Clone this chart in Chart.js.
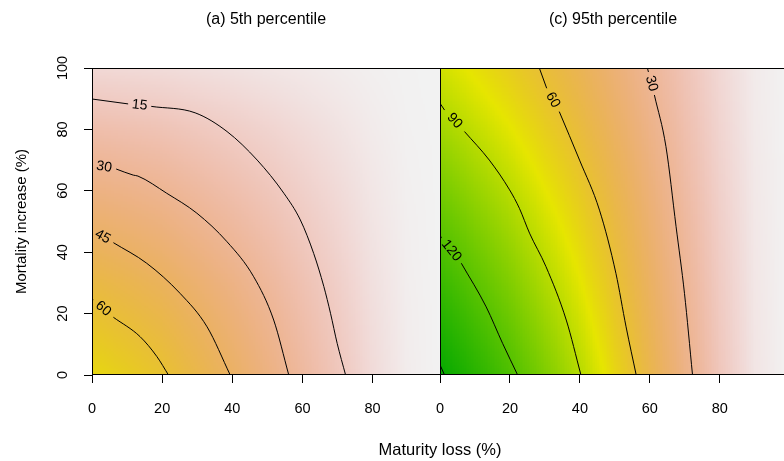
<!DOCTYPE html>
<html>
<head>
<meta charset="utf-8">
<script src="https://cdn.jsdelivr.net/npm/chart.js@4"></script>
<style>
  body { margin: 0; background: #fff; }
  #wrap { position: relative; width: 784px; height: 461px; overflow: hidden;
          font-family: "Liberation Sans", Arial, sans-serif; color: #000; }
  canvas { position: absolute; top: 0; }
  .ttl { position: absolute; font-size: 16px; line-height: 18px; white-space: nowrap; transform: translateX(-50%); }
</style>
</head>
<body>
<div id="wrap">
  <canvas id="chA" width="442" height="461" style="left:0"></canvas>
  <canvas id="chC" width="368" height="461" style="left:420px"></canvas>
  <div class="ttl" style="left:266px;top:10px">(a) 5th percentile</div>
  <div class="ttl" style="left:613px;top:10px">(c) 95th percentile</div>
  <div class="ttl" style="left:440px;top:440px;font-size:16.5px">Maturity loss (%)</div>
</div>
<script>
// fields, on a 10% grid (rows = mortality 0..100, cols = maturity 0..100)
const gridX = [0, 10, 20, 30, 40, 50, 60, 70, 80, 90, 100];
const gridY = [0, 10, 20, 30, 40, 50, 60, 70, 80, 90, 100];

const fieldA = [
  [72,   67,   61.5, 53,   44.5, 35.5, 26,   17,   8,   2,   0],
  [66.5, 61.9, 56.8, 49,   41.1, 32.8, 24,   15.7, 7.4, 1.8, 0],
  [61,   56.7, 52.1, 44.9, 37.7, 30.1, 22,   14.4, 6.8, 1.7, 0],
  [55,   51.2, 47,   40.5, 34,   27.1, 19.9, 13,   6.1, 1.5, 0],
  [48,   44.7, 41,   35.3, 29.7, 23.7, 17.3, 11.3, 5.3, 1.3, 0],
  [41.5, 38.6, 35.4, 30.5, 25.6, 20.4, 15,   9.8,  4.6, 1.2, 0],
  [35,   32.6, 29.9, 25.8, 21.6, 17.3, 12.6, 8.3,  3.9, 1,   0],
  [28.5, 26.5, 24.4, 21,   17.6, 14.1, 10.3, 6.7,  3.2, 0.8, 0],
  [22,   20.5, 18.8, 16.2, 13.6, 10.9, 8,    5.2,  2.4, 0.6, 0],
  [15,   13.9, 12.8, 11,   9.3,  7.4,  5.4,  3.5,  1.7, 0.4, 0],
  [9,    8.4,  7.7,  6.6,  5.6,  4.4,  3.3,  2.1,  1,   0.3, 0]
];

const fieldC = [
  [152, 137.5, 123.3, 107,   90.5, 71.5, 52.5, 34,   17,   4.5, 0],
  [145, 131.2, 117.6, 102.1, 86.3, 68.2, 50.1, 32.4, 16.2, 4.3, 0],
  [138, 124.9, 112,   97.2,  82.2, 64.9, 47.7, 30.9, 15.4, 4.1, 0],
  [131, 118.5, 106.3, 92.2,  78,   61.6, 45.3, 29.3, 14.7, 3.9, 0],
  [124, 112.2, 100.6, 87.3,  73.8, 58.3, 42.8, 27.7, 13.9, 3.7, 0],
  [117, 105.9, 94.9,  82.4,  69.7, 55.1, 40.4, 26.2, 13.1, 3.5, 0],
  [110, 99.6,  89.3,  77.5,  65.5, 51.8, 38,   24.6, 12.3, 3.3, 0],
  [103, 93.2,  83.6,  72.5,  61.4, 48.5, 35.6, 23,   11.5, 3.1, 0],
  [96,  86.9,  77.9,  67.6,  57.2, 45.2, 33.2, 21.5, 10.7, 2.8, 0],
  [89,  80.6,  72.3,  62.7,  53,   41.9, 30.8, 19.9, 10,   2.6, 0],
  [83,  75.1,  67.3,  58.4,  49.4, 39,   28.7, 18.6, 9.3,  2.5, 0]
];

// contour lines, [maturity, mortality]; null = gap where the label sits
const a15 = [[0, 89.9], [10.3, 88.3], null, [16.9, 87.5], [29.4, 85.4], [38.5, 79.3], [47.1, 70.0], [54.7, 59.2], [59.4, 50.5], [63.2, 39.6], [66.1, 28.8], [68, 20.1], [69.9, 10.3], [72.3, 0]];
const a30 = [[0, 68.4], null, [6.9, 67.1], [11.8, 65.1], [13.1, 64.8], [21.3, 59.2], [29.9, 52.7], [38.5, 43.4], [46.1, 32.0], [51.8, 17.9], [56.1, 0]];
const a45 = [[0, 47], null, [6.1, 43.1], [15.6, 36.4], [25.1, 26.6], [32.8, 15.7], [39.4, 0]];
const a60 = [[0, 25], [0.3, 24.4], null, [6.1, 18.8], [13.7, 12.5], [18.5, 6.0], [21.8, 0]];
const aLevels = [15, 30, 45, 60];

const c30  = [[59.3, 100], [59.6, 98.7], null, [61.3, 91.2], [64.6, 74.4], [67.5, 48.3], [69.9, 26.6], [72.2, 0]];
const c60  = [[28.4, 100], [30.5, 93.4], null, [34.1, 85.8], [39.9, 70.0], [45.6, 53.7], [50.3, 33.1], [53.2, 15.7], [56.1, 0]];
const c90  = [[0, 88.5], [1.3, 86.3], null, [7.0, 79.3], [14.1, 70.0], [19.9, 60.3], [22.7, 54.3], [25.6, 46.2], [30.3, 35.3], [36.1, 17.9], [40.3, 0]];
const c120 = [[0, 45.6], [0.4, 44.6], null, [6.1, 36.4], [13.2, 22.2], [17.9, 10.3], [22.2, 0]];
const c150 = [[0, 3.3], [1.3, 0]];
const cLevels = [30, 60, 90, 120, 150];

const xTickVals = [0, 20, 40, 60, 80];
const yTickVals = [0, 20, 40, 60, 80, 100];

const FONT = '"Liberation Sans", Arial, sans-serif';
const X_MAX = 99.5;
const Z_MAX = 154;

// R terrain.colors, continuous: high = green, mid = yellow, low = light grey
function hsv(h, s, v) {
  const i = Math.floor(h * 6), f = h * 6 - i;
  const p = v * (1 - s), q = v * (1 - f * s), t = v * (1 - (1 - f) * s);
  let r, g, b;
  switch (i % 6) {
    case 0: r = v; g = t; b = p; break;
    case 1: r = q; g = v; b = p; break;
    case 2: r = p; g = v; b = t; break;
    case 3: r = p; g = q; b = v; break;
    case 4: r = t; g = p; b = v; break;
    default: r = v; g = p; b = q;
  }
  return `rgb(${Math.round(r * 255)},${Math.round(g * 255)},${Math.round(b * 255)})`;
}
function terrain(v) {
  const t = 1 - Math.max(0, Math.min(1, v / Z_MAX));
  if (t < 0.5) { const u = t / 0.5; return hsv(1/3 - u/6, 1, 0.65 + 0.25 * u); }
  const u = (t - 0.5) / 0.5;
  return hsv(1/6 - u/6, 1 - u, 0.9 + 0.05 * u);
}

function sample(field, xv, yv) {
  const sx = gridX[1] - gridX[0], sy = gridY[1] - gridY[0];
  const gx = Math.min(Math.max(xv / sx, 0), gridX.length - 1.0001);
  const gy = Math.min(Math.max(yv / sy, 0), gridY.length - 1.0001);
  const i = Math.floor(gx), j = Math.floor(gy), fx = gx - i, fy = gy - j;
  return field[j][i] * (1 - fx) * (1 - fy) + field[j][i + 1] * fx * (1 - fy)
       + field[j + 1][i] * (1 - fx) * fy + field[j + 1][i + 1] * fx * fy;
}

const heatmap = {
  id: 'heatmap',
  beforeDatasetsDraw(chart, args, opts) {
    const { ctx, chartArea: ca, scales: { x, y } } = chart;
    const step = 0.5;
    ctx.save();
    ctx.beginPath();
    ctx.rect(ca.left, ca.top, ca.right - ca.left, ca.bottom - ca.top);
    ctx.clip();
    for (let xv = 0; xv < 100; xv += step) {
      const x0 = Math.floor(x.getPixelForValue(xv)), x1 = Math.ceil(x.getPixelForValue(xv + step));
      for (let yv = 0; yv < 100; yv += step) {
        const y0 = Math.floor(y.getPixelForValue(yv + step)), y1 = Math.ceil(y.getPixelForValue(yv));
        ctx.fillStyle = terrain(sample(opts.field, xv + step / 2, yv + step / 2));
        ctx.fillRect(x0, y0, x1 - x0, y1 - y0);
      }
    }
    ctx.restore();
  }
};

// labels go in the gap of each contour, turned along the line
const contourLabels = {
  id: 'contourLabels',
  afterDatasetsDraw(chart, args, opts) {
    const { ctx, scales: { x, y } } = chart;
    ctx.save();
    ctx.font = '14px ' + FONT;
    ctx.fillStyle = '#000';
    ctx.textAlign = 'center';
    ctx.textBaseline = 'middle';
    opts.lines.forEach((pts, n) => {
      const k = pts.indexOf(null);
      if (k < 1) return;
      const p = pts[k - 1], q = pts[k + 1];
      const px = x.getPixelForValue(p[0]), py = y.getPixelForValue(p[1]);
      const qx = x.getPixelForValue(q[0]), qy = y.getPixelForValue(q[1]);
      let ang = Math.atan2(qy - py, qx - px);
      if (ang > Math.PI / 2) ang -= Math.PI;
      if (ang < -Math.PI / 2) ang += Math.PI;
      ctx.save();
      ctx.translate((px + qx) / 2, (py + qy) / 2);
      ctx.rotate(ang);
      ctx.fillText(String(opts.levels[n]), 0, 0);
      ctx.restore();
    });
    ctx.restore();
  }
};

const frame = {
  id: 'frame',
  afterDraw(chart) {
    const { ctx, chartArea: ca } = chart;
    ctx.save();
    ctx.strokeStyle = '#000';
    ctx.lineWidth = 1;
    ctx.strokeRect(ca.left + 0.5, ca.top + 0.5, ca.right - ca.left - 1, ca.bottom - ca.top - 1);
    ctx.restore();
  }
};

function contourSets(lines) {
  const sets = [];
  lines.forEach(pts => {
    let seg = [];
    pts.forEach(p => {
      if (p) seg.push({ x: p[0], y: p[1] });
      else { sets.push(seg); seg = []; }
    });
    sets.push(seg);
  });
  return sets.filter(s => s.length > 1).map(s => ({
    data: s, showLine: true, borderColor: '#000', borderWidth: 1,
    pointRadius: 0, cubicInterpolationMode: 'monotone', fill: false
  }));
}

function xScale() {
  return {
    type: 'linear', min: 0, max: X_MAX,
    afterFit: s => { s.height = 86; s.paddingLeft = 0; s.paddingRight = 0; },
    afterBuildTicks: s => { s.ticks = xTickVals.map(v => ({ value: v })); },
    grid: { drawOnChartArea: false, tickLength: 8, color: '#000', lineWidth: 1 },
    border: { display: false },
    ticks: { padding: 17, color: '#000', font: { size: 14.5, family: FONT }, maxRotation: 0, autoSkip: false }
  };
}

function makeChart(id, lines, levels, field, withY, pad) {
  return new Chart(document.getElementById(id), {
    type: 'scatter',
    data: { datasets: contourSets(lines) },
    options: {
      responsive: false,
      animation: false,
      events: [],
      layout: { padding: pad },
      plugins: {
        legend: { display: false },
        tooltip: { enabled: false },
        heatmap: { field },
        contourLabels: { lines, levels }
      },
      scales: {
        x: xScale(),
        y: {
          type: 'linear', min: 0, max: 100, display: withY,
          afterFit: s => { s.width = withY ? 92 : 0; s.paddingTop = 0; s.paddingBottom = 0; },
          afterBuildTicks: s => { s.ticks = yTickVals.map(v => ({ value: v })); },
          grid: { drawOnChartArea: false, tickLength: 8, color: '#000', lineWidth: 1 },
          border: { display: false },
          ticks: { padding: 9, color: '#000', font: { size: 14.5, family: FONT },
                   minRotation: 90, maxRotation: 90, crossAlign: 'center', autoSkip: false },
          title: { display: true, text: 'Mortality increase (%)', color: '#000',
                   font: { size: 15, family: FONT }, padding: { top: 13, bottom: 0 } }
        }
      }
    },
    plugins: [heatmap, contourLabels, frame]
  });
}

makeChart('chA', [a15, a30, a45, a60], aLevels, fieldA, true, { top: 68, right: 1, bottom: 0, left: 0 });
makeChart('chC', [c30, c60, c90, c120, c150], cLevels, fieldC, false, { top: 68, right: 0, bottom: 0, left: 20 });
</script>
</body>
</html>
